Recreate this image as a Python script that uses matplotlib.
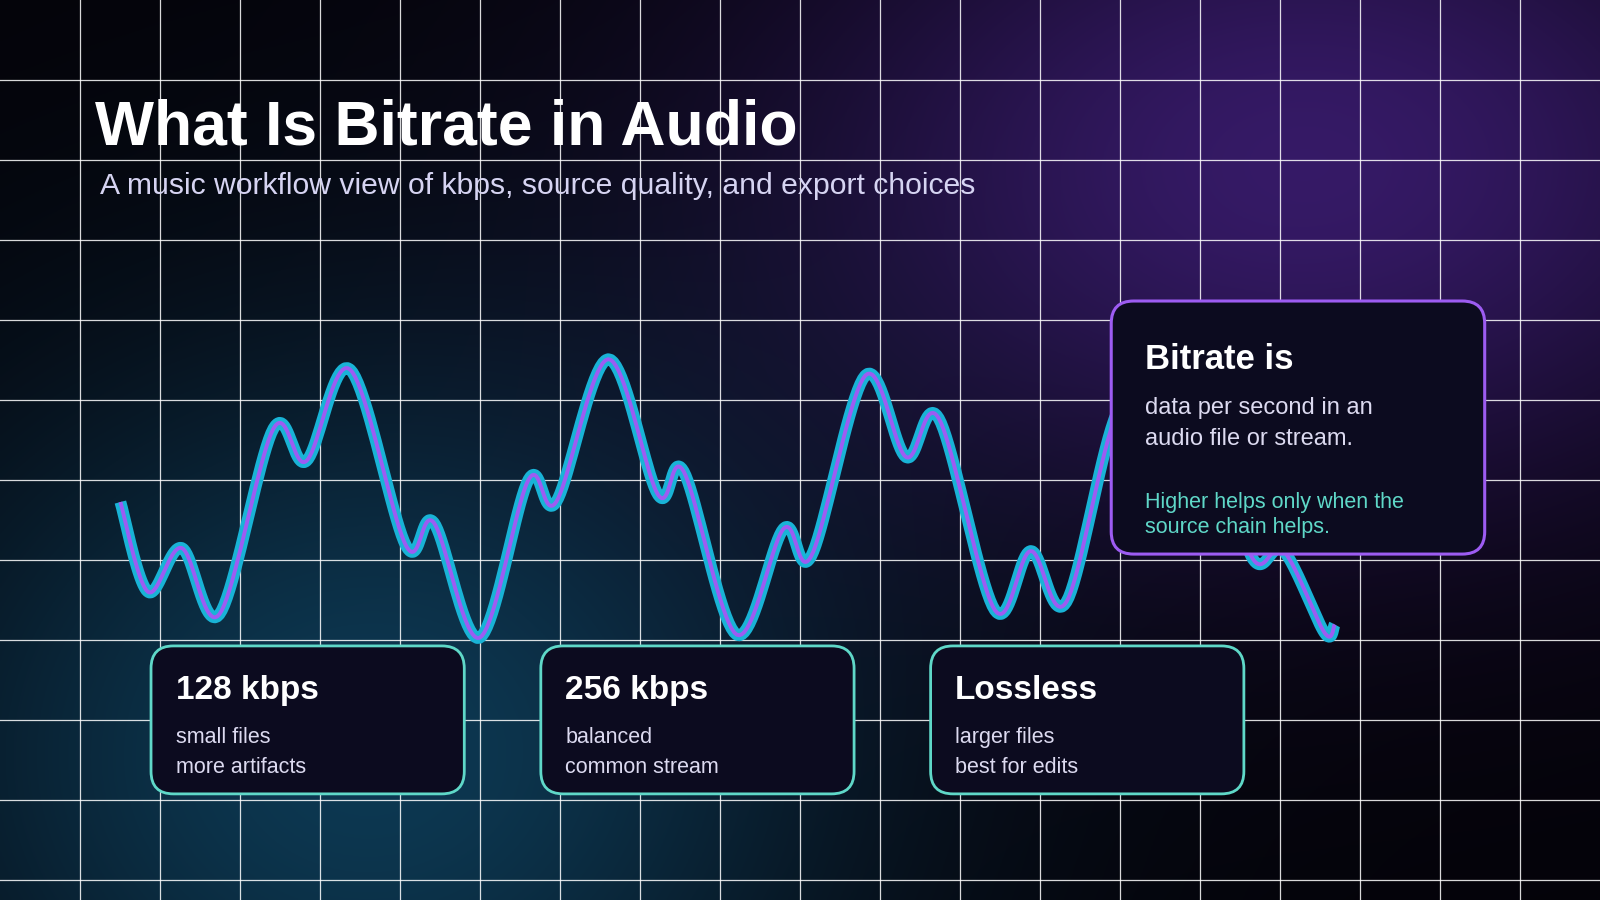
import numpy as np
import matplotlib.pyplot as plt
from matplotlib.patches import FancyBboxPatch

plt.rcParams["font.family"] = ["Liberation Sans", "DejaVu Sans"]

# --- data (reference pixel coordinates, 1568 x 882 canvas) ---
wave_x = [118, 145, 178, 215, 268, 300, 343, 398, 425, 470, 518, 545, 596, 645,
          670, 722, 768, 795, 848, 888, 920, 975, 1010, 1045, 1100, 1150, 1185,
          1228, 1258, 1298, 1308]
wave_y = [492, 580, 537, 602, 420, 452, 362, 535, 512, 625, 470, 492, 352, 485,
          462, 622, 518, 545, 368, 448, 410, 598, 540, 590, 395, 480, 430,
          548, 540, 620, 612]

cards = [
    ("128 kbps", ["small files", "more artifacts"], 148),
    ("256 kbps", ["balanced", "common stream"], 530),
    ("Lossless", ["larger files", "best for edits"], 912),
]

W, H = 1568, 882


def catmull(xs, ys, n=20):
    p = np.column_stack([xs, ys]).astype(float)
    p = np.vstack([p[0], p, p[-1]])
    out = []
    t = np.linspace(0, 1, n, endpoint=False)[:, None]
    for i in range(1, len(p) - 2):
        p0, p1, p2, p3 = p[i - 1], p[i], p[i + 1], p[i + 2]
        seg = 0.5 * ((2 * p1) + (-p0 + p2) * t + (2 * p0 - 5 * p1 + 4 * p2 - p3) * t ** 2
                     + (-p0 + 3 * p1 - 3 * p2 + p3) * t ** 3)
        out.append(seg)
    out.append(p[-2][None])
    a = np.vstack(out)
    return a[:, 0], a[:, 1]


fig = plt.figure(figsize=(16, 9), dpi=100)
ax = fig.add_axes([0, 0, 1, 1])
ax.set_xlim(0, W)
ax.set_ylim(H, 0)
ax.axis("off")

# background: dark base with teal glow bottom-left and purple glow top-right
yy, xx = np.mgrid[0:H:2, 0:W:2]
base = np.array([0.015, 0.012, 0.035])
teal = np.array([0.05, 0.22, 0.32])
purp = np.array([0.21, 0.10, 0.40])
g1 = np.exp(-(((xx - 360) / 470) ** 2 + ((yy - 740) / 400) ** 2))
g2 = np.exp(-(((xx - 1280) / 520) ** 2 + ((yy - 160) / 340) ** 2))
img = base + g1[..., None] * (teal - base) + g2[..., None] * (purp - base)
img = np.clip(img, 0, 1)
ax.imshow(img, extent=[0, W, H, 0], zorder=0, aspect="auto")

# grid
step = W / 20
for x in np.arange(step, W, step):
    ax.axvline(x, color="white", lw=0.9, alpha=0.85, zorder=1)
for y in np.arange(step, H, step):
    ax.axhline(y, color="white", lw=0.9, alpha=0.85, zorder=1)

# wave
sx, sy = catmull(wave_x, wave_y)
ax.plot(sx, sy, color="#19b3d6", lw=8.5, solid_capstyle="butt", zorder=3)
ax.plot(sx, sy, color="#9d5cf2", lw=2.8, solid_capstyle="butt", zorder=4)

# title
ax.text(93, 125, "What Is Bitrate in Audio", color="white", fontsize=45,
        fontweight="bold", va="center", zorder=6)
ax.text(98, 182, "A music workflow view of kbps, source quality, and export choices",
        color="#d6d4f2", fontsize=21.7, va="center", zorder=6)

# bottom cards
for title, lines, x0 in cards:
    box = FancyBboxPatch((x0, 633), 307, 145, boxstyle="round,pad=0,rounding_size=22",
                         fc="#0c0b1f", ec="#5fd8c8", lw=2, zorder=5)
    ax.add_patch(box)
    ax.text(x0 + 24, 677, title, color="white", fontsize=24, fontweight="bold",
            va="center", zorder=6)
    for i, ln in enumerate(lines):
        ax.text(x0 + 24, 723 + 29 * i, ln, color="#dcdaf0", fontsize=15.5,
                va="center", zorder=6)

# right card
box = FancyBboxPatch((1089, 295), 366, 248, boxstyle="round,pad=0,rounding_size=22",
                     fc="#0c0b1f", ec="#9d5cf2", lw=2.2, zorder=5)
ax.add_patch(box)
ax.text(1122, 352, "Bitrate is", color="white", fontsize=25, fontweight="bold",
        va="center", zorder=6)
ax.text(1122, 400, "data per second in an", color="#dcdaf0", fontsize=17,
        va="center", zorder=6)
ax.text(1122, 430, "audio file or stream.", color="#dcdaf0", fontsize=17,
        va="center", zorder=6)
ax.text(1122, 492, "Higher helps only when the", color="#5fd8c8", fontsize=15.5,
        va="center", zorder=6)
ax.text(1122, 517, "source chain helps.", color="#5fd8c8", fontsize=15.5,
        va="center", zorder=6)

fig.savefig("out.png", dpi=100)
